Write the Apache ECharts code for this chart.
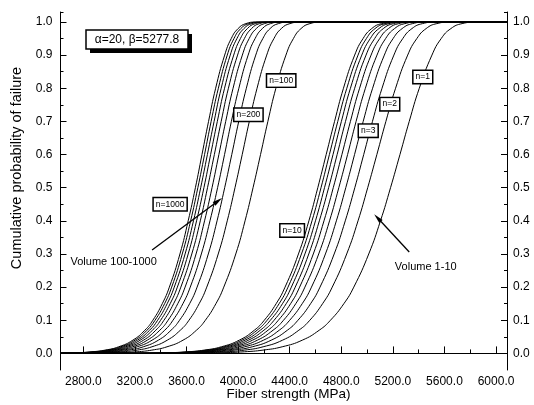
<!DOCTYPE html>
<html><head><meta charset="utf-8">
<script src="https://cdn.jsdelivr.net/npm/echarts@6/dist/echarts.min.js"></script>
<style>html,body{margin:0;padding:0;background:#fff}#c{width:534px;height:405px}</style>
</head><body><div id="c"></div>
<script>
// Cumulative probability levels (y values shared by every curve)
const probLevels = [0, 0.0005, 0.002, 0.005, 0.01, 0.02, 0.04, 0.07, 0.1, 0.15, 0.2, 0.3, 0.4, 0.5, 0.6, 0.7, 0.8, 0.9, 0.95, 0.98, 0.995, 0.9995, 1];

// Fiber strength (MPa) at each probability level, one array per volume n
const strengthN1    = [2400, 3609, 3868, 4050, 4193, 4342, 4498, 4629, 4716, 4820, 4897, 5013, 5104, 5182, 5255, 5327, 5405, 5503, 5575, 5650, 5737, 5841, 6200];
const strengthN2    = [2400, 3486, 3737, 3912, 4051, 4194, 4345, 4471, 4556, 4655, 4730, 4842, 4930, 5005, 5076, 5146, 5221, 5315, 5386, 5458, 5541, 5642, 6200];
const strengthN3    = [2400, 3416, 3662, 3834, 3969, 4110, 4257, 4382, 4464, 4562, 4635, 4745, 4831, 4905, 4974, 5042, 5116, 5208, 5277, 5348, 5430, 5529, 6200];
const strengthN4    = [2400, 3367, 3609, 3779, 3913, 4052, 4197, 4319, 4400, 4497, 4569, 4677, 4762, 4835, 4903, 4970, 5043, 5134, 5202, 5272, 5353, 5450, 6200];
const strengthN5    = [2400, 3330, 3569, 3737, 3869, 4007, 4150, 4271, 4352, 4447, 4518, 4625, 4709, 4781, 4849, 4915, 4987, 5077, 5144, 5213, 5293, 5390, 6200];
const strengthN6    = [2400, 3300, 3537, 3703, 3834, 3970, 4112, 4232, 4312, 4407, 4477, 4583, 4666, 4738, 4805, 4871, 4942, 5031, 5098, 5166, 5245, 5341, 6200];
const strengthN7    = [2400, 3275, 3510, 3675, 3805, 3940, 4081, 4200, 4279, 4373, 4443, 4548, 4630, 4702, 4768, 4833, 4904, 4992, 5059, 5126, 5205, 5300, 6200];
const strengthN8    = [2400, 3253, 3486, 3650, 3779, 3914, 4054, 4172, 4250, 4344, 4413, 4518, 4600, 4670, 4736, 4801, 4871, 4959, 5025, 5092, 5170, 5264, 6200];
const strengthN9    = [2400, 3234, 3466, 3629, 3757, 3891, 4030, 4147, 4225, 4318, 4387, 4491, 4573, 4643, 4708, 4773, 4843, 4930, 4995, 5062, 5140, 5233, 6200];
const strengthN10   = [2400, 3217, 3448, 3610, 3737, 3870, 4009, 4126, 4203, 4295, 4364, 4468, 4549, 4618, 4683, 4748, 4817, 4904, 4969, 5036, 5113, 5206, 6200];
const strengthN100  = [2400, 2867, 3073, 3217, 3331, 3449, 3573, 3677, 3746, 3828, 3889, 3982, 4054, 4116, 4174, 4231, 4293, 4371, 4429, 4488, 4557, 4640, 6200];
const strengthN200  = [2400, 2769, 2968, 3108, 3218, 3332, 3451, 3552, 3619, 3698, 3757, 3846, 3916, 3976, 4032, 4087, 4147, 4222, 4278, 4335, 4402, 4482, 6200];
const strengthN300  = [2400, 2714, 2909, 3045, 3153, 3265, 3382, 3480, 3546, 3624, 3682, 3769, 3837, 3896, 3951, 4005, 4064, 4137, 4192, 4248, 4313, 4392, 6200];
const strengthN400  = [2400, 2675, 2867, 3002, 3108, 3218, 3333, 3431, 3495, 3572, 3629, 3715, 3782, 3841, 3895, 3948, 4006, 4078, 4132, 4188, 4252, 4329, 6200];
const strengthN500  = [2400, 2645, 2835, 2968, 3073, 3183, 3296, 3393, 3457, 3532, 3589, 3674, 3740, 3798, 3851, 3904, 3961, 4033, 4086, 4141, 4205, 4281, 6200];
const strengthN600  = [2400, 2621, 2810, 2941, 3046, 3154, 3267, 3362, 3425, 3500, 3556, 3641, 3707, 3763, 3816, 3869, 3925, 3996, 4049, 4104, 4166, 4242, 6200];
const strengthN700  = [2400, 2601, 2788, 2919, 3022, 3129, 3241, 3336, 3399, 3473, 3529, 3613, 3678, 3735, 3787, 3839, 3895, 3966, 4018, 4072, 4134, 4210, 6200];
const strengthN800  = [2400, 2584, 2769, 2899, 3002, 3109, 3220, 3314, 3376, 3450, 3505, 3589, 3654, 3710, 3762, 3814, 3869, 3939, 3991, 4045, 4107, 4182, 6200];
const strengthN900  = [2400, 2569, 2753, 2882, 2984, 3090, 3201, 3294, 3356, 3430, 3485, 3567, 3632, 3688, 3740, 3791, 3847, 3916, 3968, 4021, 4083, 4157, 6200];
const strengthN1000 = [2400, 2555, 2739, 2867, 2969, 3074, 3184, 3277, 3339, 3412, 3467, 3549, 3613, 3669, 3720, 3771, 3826, 3896, 3947, 4000, 4061, 4135, 6200];

const volumes = [1, 2, 3, 4, 5, 6, 7, 8, 9, 10, 100, 200, 300, 400, 500, 600, 700, 800, 900, 1000];
const strengthCurves = [strengthN1, strengthN2, strengthN3, strengthN4, strengthN5, strengthN6, strengthN7, strengthN8, strengthN9, strengthN10,
  strengthN100, strengthN200, strengthN300, strengthN400, strengthN500, strengthN600, strengthN700, strengthN800, strengthN900, strengthN1000];

// Tick values
const xTickValues  = [2800, 3200, 3600, 4000, 4400, 4800, 5200, 5600, 6000];
const xMinorValues = [3000, 3400, 3800, 4200, 4600, 5000, 5400, 5800];
const yTickValues  = [0, 0.1, 0.2, 0.3, 0.4, 0.5, 0.6, 0.7, 0.8, 0.9, 1.0];
const yMinorValues = [0.05, 0.15, 0.25, 0.35, 0.45, 0.55, 0.65, 0.75, 0.85, 0.95, 1.03];

// Annotations (data coordinates)
const curveNotes = [
  { text: 'n=1000', x: 3473, y: 0.450 },
  { text: 'n=200',  x: 4080, y: 0.720 },
  { text: 'n=100',  x: 4334, y: 0.823 },
  { text: 'n=10',   x: 4419, y: 0.371 },
  { text: 'n=3',    x: 5009, y: 0.672 },
  { text: 'n=2',    x: 5176, y: 0.752 },
  { text: 'n=1',    x: 5432, y: 0.834 }
];
const arrowNotes = [
  { text: 'Volume 100-1000', from: [3333, 0.312], to: [3876, 0.469], textAt: [3035, 0.276] },
  { text: 'Volume 1-10',     from: [5327, 0.306], to: [5055, 0.420], textAt: [5455, 0.261] }
];
const paramText = 'α=20, β=5277.8';

const FONT = '"Liberation Sans", Arial, sans-serif';
const chart = echarts.init(document.getElementById('c'), null, { renderer: 'canvas' });

const X_MIN = 2623, X_MAX = 6085, Y_MIN = -0.05, Y_MAX = 1.03;
const axisLineStyle = { show: true, lineStyle: { color: '#000', width: 1 } };

const series = strengthCurves.map((xs, i) => ({
  name: 'n=' + volumes[i],
  type: 'line',
  xAxisIndex: 0,
  yAxisIndex: 0,
  data: xs.map((x, j) => [x, probLevels[j]]),
  showSymbol: false,
  symbol: 'none',
  smooth: 0.5,
  lineStyle: { color: '#000', width: 1 },
  silent: true,
  clip: true,
  z: 2
}));

chart.setOption({
  animation: false,
  backgroundColor: '#fff',
  grid: { left: 60.5, right: 27, top: 12, bottom: 35, containLabel: false },
  xAxis: [
    {
      type: 'value', min: X_MIN, max: X_MAX, position: 'bottom',
      axisLine: axisLineStyle,
      axisTick: { show: true, inside: true, length: 7, customValues: xTickValues, lineStyle: { color: '#000', width: 1 } },
      axisLabel: { show: true, customValues: xTickValues, formatter: v => v.toFixed(1), color: '#000', fontSize: 12, fontFamily: FONT, margin: 6 },
      splitLine: { show: false }
    },
    {
      type: 'value', min: X_MIN, max: X_MAX, position: 'bottom',
      axisLine: { show: false },
      axisTick: { show: true, inside: true, length: 4, customValues: xMinorValues, lineStyle: { color: '#000', width: 1 } },
      axisLabel: { show: false },
      splitLine: { show: false }
    }
  ],
  yAxis: [
    {
      type: 'value', min: Y_MIN, max: Y_MAX, position: 'left',
      axisLine: axisLineStyle,
      axisTick: { show: true, inside: true, length: 6, customValues: yTickValues, lineStyle: { color: '#000', width: 1 } },
      axisLabel: { show: true, customValues: yTickValues, formatter: v => v.toFixed(1), color: '#000', fontSize: 12, fontFamily: FONT, margin: 8 },
      splitLine: { show: false }
    },
    {
      type: 'value', min: Y_MIN, max: Y_MAX, position: 'left',
      axisLine: { show: false },
      axisTick: { show: true, inside: true, length: 3, customValues: yMinorValues, lineStyle: { color: '#000', width: 1 } },
      axisLabel: { show: false },
      splitLine: { show: false }
    },
    {
      type: 'value', min: Y_MIN, max: Y_MAX, position: 'right',
      axisLine: axisLineStyle,
      axisTick: { show: true, inside: true, length: 6, customValues: yTickValues, lineStyle: { color: '#000', width: 1 } },
      axisLabel: { show: true, customValues: yTickValues, formatter: v => v.toFixed(1), color: '#000', fontSize: 12, fontFamily: FONT, margin: 6 },
      splitLine: { show: false }
    },
    {
      type: 'value', min: Y_MIN, max: Y_MAX, position: 'right',
      axisLine: { show: false },
      axisTick: { show: true, inside: true, length: 3, customValues: yMinorValues, lineStyle: { color: '#000', width: 1 } },
      axisLabel: { show: false },
      splitLine: { show: false }
    }
  ],
  series: series
});

function toPx(p) { return chart.convertToPixel({ xAxisIndex: 0, yAxisIndex: 0 }, p); }

const graphics = [];
// axis titles
graphics.push({
  type: 'text', x: 288.5, y: 394.5, z: 100,
  style: { text: 'Fiber strength (MPa)', font: '13.5px ' + FONT, fill: '#000', align: 'center', verticalAlign: 'middle' }
});
graphics.push({
  type: 'text', x: 17, y: 168, rotation: Math.PI / 2, z: 100,
  style: { text: 'Cumulative probability of failure', font: '14.5px ' + FONT, fill: '#000', align: 'center', verticalAlign: 'middle' }
});
// parameter box with drop shadow
graphics.push({ type: 'rect', shape: { x: 90, y: 34, width: 102, height: 19 }, style: { fill: '#000' }, z: 100 });
graphics.push({ type: 'rect', shape: { x: 86, y: 30, width: 102, height: 19 }, style: { fill: '#fff', stroke: '#000', lineWidth: 1.5 }, z: 101 });
graphics.push({
  type: 'text', x: 137, y: 40, z: 102,
  style: { text: paramText, font: '12px ' + FONT, fill: '#000', align: 'center', verticalAlign: 'middle' }
});
// curve labels
curveNotes.forEach(n => {
  const p = toPx([n.x, n.y]);
  graphics.push({
    type: 'text', x: p[0], y: p[1], z: 100,
    style: {
      text: n.text, font: '8.5px ' + FONT, fill: '#000', align: 'center', verticalAlign: 'middle',
      backgroundColor: '#fff', borderColor: '#000', borderWidth: 1.5, padding: [2, 2, 1, 2]
    }
  });
});
// arrows
arrowNotes.forEach(a => {
  const p0 = toPx(a.from), p1 = toPx(a.to);
  const dx = p1[0] - p0[0], dy = p1[1] - p0[1];
  const L = Math.hypot(dx, dy), ux = dx / L, uy = dy / L;
  const hl = 10, hw = 2.3;
  const bx = p1[0] - ux * hl, by = p1[1] - uy * hl;
  graphics.push({ type: 'line', z: 100, shape: { x1: p0[0], y1: p0[1], x2: bx + ux * 2, y2: by + uy * 2 }, style: { stroke: '#000', lineWidth: 1.3 } });
  graphics.push({ type: 'polygon', z: 100, shape: { points: [[p1[0], p1[1]], [bx - uy * hw, by + ux * hw], [bx + uy * hw, by - ux * hw]] }, style: { fill: '#000' } });
  const t = toPx(a.textAt);
  graphics.push({
    type: 'text', x: t[0], y: t[1], z: 100,
    style: { text: a.text, font: '11px ' + FONT, fill: '#000', align: 'center', verticalAlign: 'middle' }
  });
});

chart.setOption({ graphic: graphics });
</script>
</body></html>
